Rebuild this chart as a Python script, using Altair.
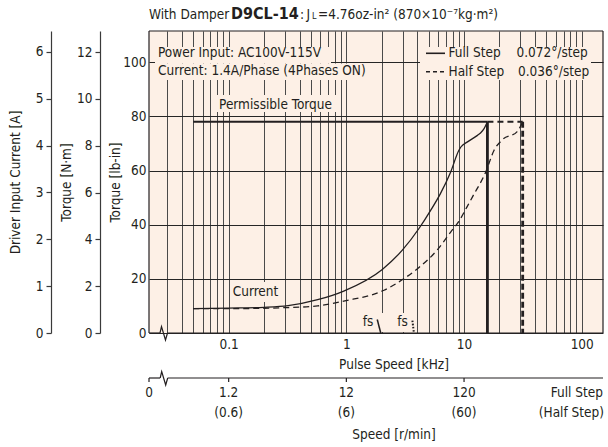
import altair as alt
import pandas as pd

FONT = "DejaVu Sans Condensed, Liberation Sans Narrow, sans-serif"
FS = 13.5
INK = "#231f20"
PAPER = "#fdf0e6"

# plot area size (pixels) and scale domains
W, H = 454, 302
X_DOMAIN = [0.02104, 151.6]     # pulse speed, kHz (log)
Y_DOMAIN = [0, 111.55]          # torque, lb-in
CUR_DOMAIN = [0, 6.448]         # driver input current, A
NM_DOMAIN = [0, 12.897]         # torque, N·m

# grid / tick values
x_grid = [0.03, 0.04, 0.05, 0.06, 0.07, 0.08, 0.09,
          0.1, 0.2, 0.3, 0.4, 0.5, 0.6, 0.7, 0.8, 0.9,
          1, 2, 3, 4, 5, 6, 7, 8, 9,
          10, 20, 30, 40, 50, 60, 70, 80, 90, 100]
lbin_ticks = [0, 20, 40, 60, 80, 100]
cur_ticks = [0, 1, 2, 3, 4, 5, 6]
nm_ticks = [0, 2, 4, 6, 8, 10, 12]

# driver input current, plotted on the lb-in scale
full_khz = [0.05, 0.1, 0.2, 0.32, 0.57, 0.95, 2.02, 2.99, 4.14, 5.2, 6.3, 7.7,
            9.0, 9.4, 10.7, 13.0, 13.8, 14.8, 15.8]
full_cur = [9.0, 9.2, 9.5, 10.1, 12.3, 15.5, 23.5, 30.6, 38.6, 45.3, 51.5, 59.5,
            67.3, 68.7, 70.6, 73.0, 73.9, 75.5, 78.0]
half_khz = [0.05, 0.1, 0.32, 0.57, 0.95, 2.09, 3.09, 4.14, 5.9, 7.7, 9.0, 10.6,
            11.8, 15.3, 18.0, 21.2, 28.3, 31.5]
half_cur = [9.0, 9.0, 9.4, 10.0, 11.8, 15.8, 20.1, 24.2, 30.6, 37.3, 41.1, 46.6,
            50.3, 59.5, 67.5, 71.4, 74.4, 78.0]

# pull-out torque (lb-in) and its limits (kHz)
torque_level = 78.0
torque_start = 0.05
full_max = 15.8
half_max = 31.5

# max starting pulse rate markers (kHz, lb-in)
fs_full = {"khz": [1.83, 1.96], "lbin": [5.0, 0.0]}
fs_half = {"khz": [3.64, 3.75], "lbin": [4.6, 0.0]}

# speed axis below the chart
speed_khz = [0.1, 1, 10]
speed_full = ["1.2", "12", "120"]
speed_half = ["(0.6)", "(6)", "(60)"]

xscale = alt.Scale(type="log", domain=X_DOMAIN, nice=False)
yscale = alt.Scale(domain=Y_DOMAIN, nice=False, zero=False)


def X(field):
    return alt.X(field, scale=xscale, axis=None)


def Y(field):
    return alt.Y(field, scale=yscale, axis=None)


def one():
    return pd.DataFrame({"k": [0]})


def text(t, x, y, size=FS, weight="normal", align="left", baseline="middle"):
    return alt.Chart(pd.DataFrame({"t": [t]})).mark_text(
        font=FONT, fontSize=size, fontWeight=weight, align=align,
        baseline=baseline, color=INK
    ).encode(text="t:N", x=alt.value(x), y=alt.value(y))


def box(x1, x2, y1, y2):
    return alt.Chart(one()).mark_rect(color=PAPER).encode(
        x=alt.value(x1), x2=alt.value(x2), y=alt.value(y1), y2=alt.value(y2))


def hrule(x1, x2, y, width=1.2, dash=None):
    kw = {"strokeDash": dash} if dash else {}
    return alt.Chart(one()).mark_rule(color=INK, strokeWidth=width, **kw).encode(
        x=alt.value(x1), x2=alt.value(x2), y=alt.value(y))


def vrule(x, y1, y2, width=1.2):
    return alt.Chart(one()).mark_rule(color=INK, strokeWidth=width).encode(
        x=alt.value(x), y=alt.value(y1), y2=alt.value(y2))


def zigzag(x0, y0, width=1.2):
    pts = pd.DataFrame({"px": [x0, x0 + 1.5, x0 + 5.5, x0 + 7.5],
                        "py": [y0, y0 - 6.5, y0 + 7, y0],
                        "o": [0, 1, 2, 3]})
    return alt.Chart(pts).mark_line(color=INK, strokeWidth=width).encode(
        x=alt.X("px:Q", scale=None), y=alt.Y("py:Q", scale=None), order="o:Q")


# frame with grid and the lb-in / kHz axes
frame = alt.Chart(pd.DataFrame({"khz": [1.0], "lbin": [0.0]})).mark_point(opacity=0).encode(
    x=alt.X("khz:Q", scale=xscale, axis=alt.Axis(
        orient="bottom", values=x_grid, grid=True, gridColor="#4a4a4a", gridWidth=1,
        ticks=False, domain=False, labelOverlap=False, labelFlush=False,
        labelPadding=4, title=None,
        labelExpr="datum.value === 0.1 ? '0.1' : datum.value === 1 ? '1' : "
                  "datum.value === 10 ? '10' : datum.value === 100 ? '100' : ''")),
    y=alt.Y("lbin:Q", scale=yscale, axis=alt.Axis(
        orient="left", values=lbin_ticks, grid=True, gridColor="#262626", gridWidth=1.1,
        ticks=False, domain=False, labelPadding=3,
        title="Torque [lb-in]", titleX=-34, titleY=H / 2, titleAngle=-90,
        titleAlign="center", titleBaseline="middle")),
)

backgrounds = [
    box(6, 182, 16, 32.5),      # Power Input line
    box(6, 221, 32.5, 49),      # Current line
    box(271, 442, 16, 49),      # legend
    box(66, 187, 64, 81),       # Permissible Torque
    box(81, 133, 251, 271),     # Current
    box(211, 236, 282, 301),    # fs (full)
    box(247, 265, 282, 301),    # fs (half)
]

full_line = alt.Chart(pd.DataFrame({"khz": full_khz, "lbin": full_cur})).mark_line(
    color=INK, strokeWidth=1.3, interpolate="monotone").encode(x=X("khz:Q"), y=Y("lbin:Q"))
half_line = alt.Chart(pd.DataFrame({"khz": half_khz, "lbin": half_cur})).mark_line(
    color=INK, strokeWidth=1.3, strokeDash=[6, 4], interpolate="monotone").encode(
    x=X("khz:Q"), y=Y("lbin:Q"))

torque_full_h = alt.Chart(pd.DataFrame({"a": [torque_start], "b": [full_max], "t": [torque_level]})).mark_rule(
    color=INK, strokeWidth=2).encode(x=X("a:Q"), x2="b:Q", y=Y("t:Q"))
torque_full_v = alt.Chart(pd.DataFrame({"a": [full_max], "t": [torque_level], "z": [0.0]})).mark_rule(
    color=INK, strokeWidth=2.8).encode(x=X("a:Q"), y=Y("t:Q"), y2="z:Q")
torque_half_h = alt.Chart(pd.DataFrame({"a": [full_max], "b": [half_max], "t": [torque_level]})).mark_rule(
    color=INK, strokeWidth=2, strokeDash=[6, 4]).encode(x=X("a:Q"), x2="b:Q", y=Y("t:Q"))
torque_half_v = alt.Chart(pd.DataFrame({"a": [half_max], "t": [torque_level], "z": [0.0]})).mark_rule(
    color=INK, strokeWidth=2.8, strokeDash=[6, 3]).encode(x=X("a:Q"), y=Y("t:Q"), y2="z:Q")

fs_full_mark = alt.Chart(pd.DataFrame(fs_full)).mark_line(color=INK, strokeWidth=1.5).encode(
    x=X("khz:Q"), y=Y("lbin:Q"))
fs_half_mark = alt.Chart(pd.DataFrame(fs_half)).mark_line(
    color=INK, strokeWidth=2, strokeDash=[1.6, 1.6]).encode(x=X("khz:Q"), y=Y("lbin:Q"))

# plot border with axis break
border = [
    vrule(0, 0, H), hrule(0, W, 0), vrule(W, 0, H),
    hrule(0, 11, H), hrule(18.5, W, H), zigzag(11, H),
]

# speed axis (r/min)
SY = 347
speed_df = pd.DataFrame({"khz": speed_khz, "full": speed_full, "half": speed_half})
speed_axis = [
    hrule(0, 11, SY), hrule(18.7, W, SY), zigzag(11.2, SY), vrule(0, SY, SY + 4),
    alt.Chart(speed_df).mark_rule(color=INK, strokeWidth=1.2).encode(
        x=X("khz:Q"), y=alt.value(SY), y2=alt.value(SY + 4)),
    alt.Chart(speed_df).mark_text(font=FONT, fontSize=FS, color=INK, baseline="middle").encode(
        x=X("khz:Q"), y=alt.value(362), text="full:N"),
    alt.Chart(speed_df).mark_text(font=FONT, fontSize=FS, color=INK, baseline="middle").encode(
        x=X("khz:Q"), y=alt.value(382), text="half:N"),
    text("0", 0, 362, align="center"),
    text("Full Step", W, 362, align="right"),
    text("(Half Step)", W + 1, 382, align="right"),
    text("Speed [r/min]", 245, 404, align="center"),
    text("Pulse Speed [kHz]", 245, 334, align="center"),
]

# legend
legend = [
    hrule(277, 296, 22.3, width=1.6),
    hrule(277, 296, 40.7, width=1.6, dash=[4, 3]),
    text("Full Step", 299.5, 22.3),
    text("0.072°/step", 367.5, 22.3),
    text("Half Step", 299.5, 40.7),
    text("0.036°/step", 369, 40.7),
]

labels = [
    text("Power Input: AC100V-115V", 9, 22.3),
    text("Current: 1.4A/Phase (4Phases ON)", 9, 39.5),
    text("Permissible Torque", 126.5, 73.5, align="center"),
    text("Current", 106.5, 260.5, align="center"),
    text("fs", 219, 291, align="center"),
    text("fs", 253.5, 291, align="center"),
]

# chart title in pieces (bold model name, small subscript)
TY = -12
title = [
    text("With Damper", 0, TY, baseline="alphabetic"),
    text("D9CL-14", 82, TY, size=16, weight="bold", baseline="alphabetic"),
    text(":", 151, TY, baseline="alphabetic"),
    text("J", 157.5, TY, baseline="alphabetic"),
    text("L", 163, TY, size=9, baseline="alphabetic"),
    text("=4.76oz-in² (870×10⁻⁷kg·m²)", 169, TY, baseline="alphabetic"),
]

# extra left axes: driver current (A) and torque (N·m)
cur_axis = alt.Chart(pd.DataFrame({"a": [0.0]})).mark_point(opacity=0).encode(
    y=alt.Y("a:Q", scale=alt.Scale(domain=CUR_DOMAIN, nice=False, zero=False),
            axis=alt.Axis(orient="left", offset=98, values=cur_ticks, grid=False,
                          domain=True, domainColor="#3a3a3a", domainWidth=1.2,
                          ticks=True, tickSize=5, tickColor="#3a3a3a", tickWidth=1.2,
                          labelPadding=3, title="Driver Input Current [A]",
                          titleX=-36, titleY=H / 2, titleAngle=-90,
                          titleAlign="center", titleBaseline="middle")))
nm_axis = alt.Chart(pd.DataFrame({"b": [0.0]})).mark_point(opacity=0).encode(
    y=alt.Y("b:Q", scale=alt.Scale(domain=NM_DOMAIN, nice=False, zero=False),
            axis=alt.Axis(orient="left", offset=49, values=nm_ticks, grid=False,
                          domain=True, domainColor="#3a3a3a", domainWidth=1.2,
                          ticks=True, tickSize=5, tickColor="#3a3a3a", tickWidth=1.2,
                          labelPadding=3, title="Torque [N·m]",
                          titleX=-34, titleY=H / 2, titleAngle=-90,
                          titleAlign="center", titleBaseline="middle")))

chart = alt.layer(
    frame, cur_axis, nm_axis, *backgrounds, full_line, half_line,
    torque_full_h, torque_half_h, torque_full_v, torque_half_v,
    fs_full_mark, fs_half_mark, *border, *speed_axis, *legend, *labels, *title,
).resolve_scale(y="independent").resolve_axis(x="independent", y="independent").properties(
    width=W, height=H,
    padding={"left": 149, "top": 31, "right": 5, "bottom": 114},
    autosize=alt.AutoSizeParams(type="none"),
    background="white",
).configure_view(stroke=None, fill=PAPER).configure_axis(
    labelFont=FONT, titleFont=FONT, labelFontSize=FS, titleFontSize=FS,
    labelColor=INK, titleColor=INK, titleFontWeight="normal",
)

chart.save("out.html", embed_options={"renderer": "svg", "actions": False})
